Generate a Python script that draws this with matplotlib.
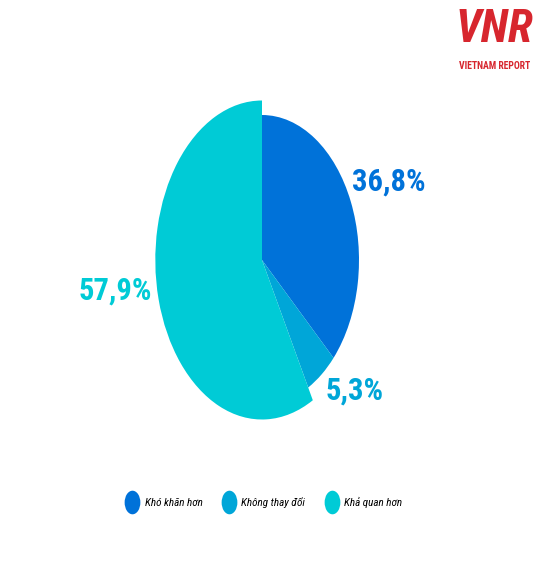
import matplotlib.pyplot as plt
from matplotlib.lines import Line2D
from matplotlib.markers import MarkerStyle
from matplotlib.path import Path
from matplotlib.transforms import Affine2D

# data
labels = ["Khó khăn hơn", "Không thay đổi", "Khả quan hơn"]
values = [36.8, 5.3, 57.9]
value_text = ["36,8%", "5,3%", "57,9%"]
colors = ["#0072d9", "#00a6d8", "#00cbd6"]

W, H = 534, 561
narrow = ["Roboto Condensed", "Roboto", "DejaVu Sans"]


def px(x, y):
    # pixel coords (from top-left) -> figure fraction
    return x / W, 1 - y / H


fig = plt.figure(figsize=(W / 100, H / 100), dpi=100)
ax = fig.add_axes([0, 0, 1, 1])

wedges, _ = ax.pie(values, colors=colors, startangle=90, counterclock=False,
                   wedgeprops=dict(linewidth=0))
# the "better" slice sticks out a bit further than the other two
wedges[2].set_radius(1.1)

# pie is stretched vertically: 97 px per unit across, 145 px per unit down
cx, cy = 262, 260
ax.set_aspect("auto")
ax.set_xlim(-cx / 97, (W - cx) / 97)
ax.set_ylim(-(H - cy) / 145, cy / 145)
ax.axis("off")

# value labels
fig.text(*px(352, 182), value_text[0], color=colors[0], fontsize=22,
         fontweight="bold", family=narrow, va="center", ha="left")
fig.text(*px(326, 391), value_text[1], color=colors[1], fontsize=22,
         fontweight="bold", family=narrow, va="center", ha="left")
fig.text(*px(152, 291), value_text[2], color=colors[2], fontsize=22,
         fontweight="bold", family=narrow, va="center", ha="right")

# legend with tall oval markers
oval = MarkerStyle(Path.unit_circle().transformed(Affine2D().scale(1, 1.5)))
handles = [Line2D([], [], linestyle="none", marker=oval, markersize=17,
                  markerfacecolor=c, markeredgewidth=0) for c in colors]
fig.legend(handles, labels, loc="center", bbox_to_anchor=px(264, 502), ncol=3,
           frameon=False, columnspacing=1.8, handletextpad=0.5, handlelength=1.2,
           prop=dict(family=narrow, style="italic", size=8))

# logo
fig.text(*px(494, 30), "VNR", color="#d7262e", fontsize=33, fontweight="bold",
         style="italic", family=narrow, ha="center", va="center")
fig.text(*px(495, 66), "VIETNAM REPORT", color="#d7262e", fontsize=7,
         fontweight="bold", family=narrow, ha="center", va="center")

fig.savefig("out.png", dpi=100)
